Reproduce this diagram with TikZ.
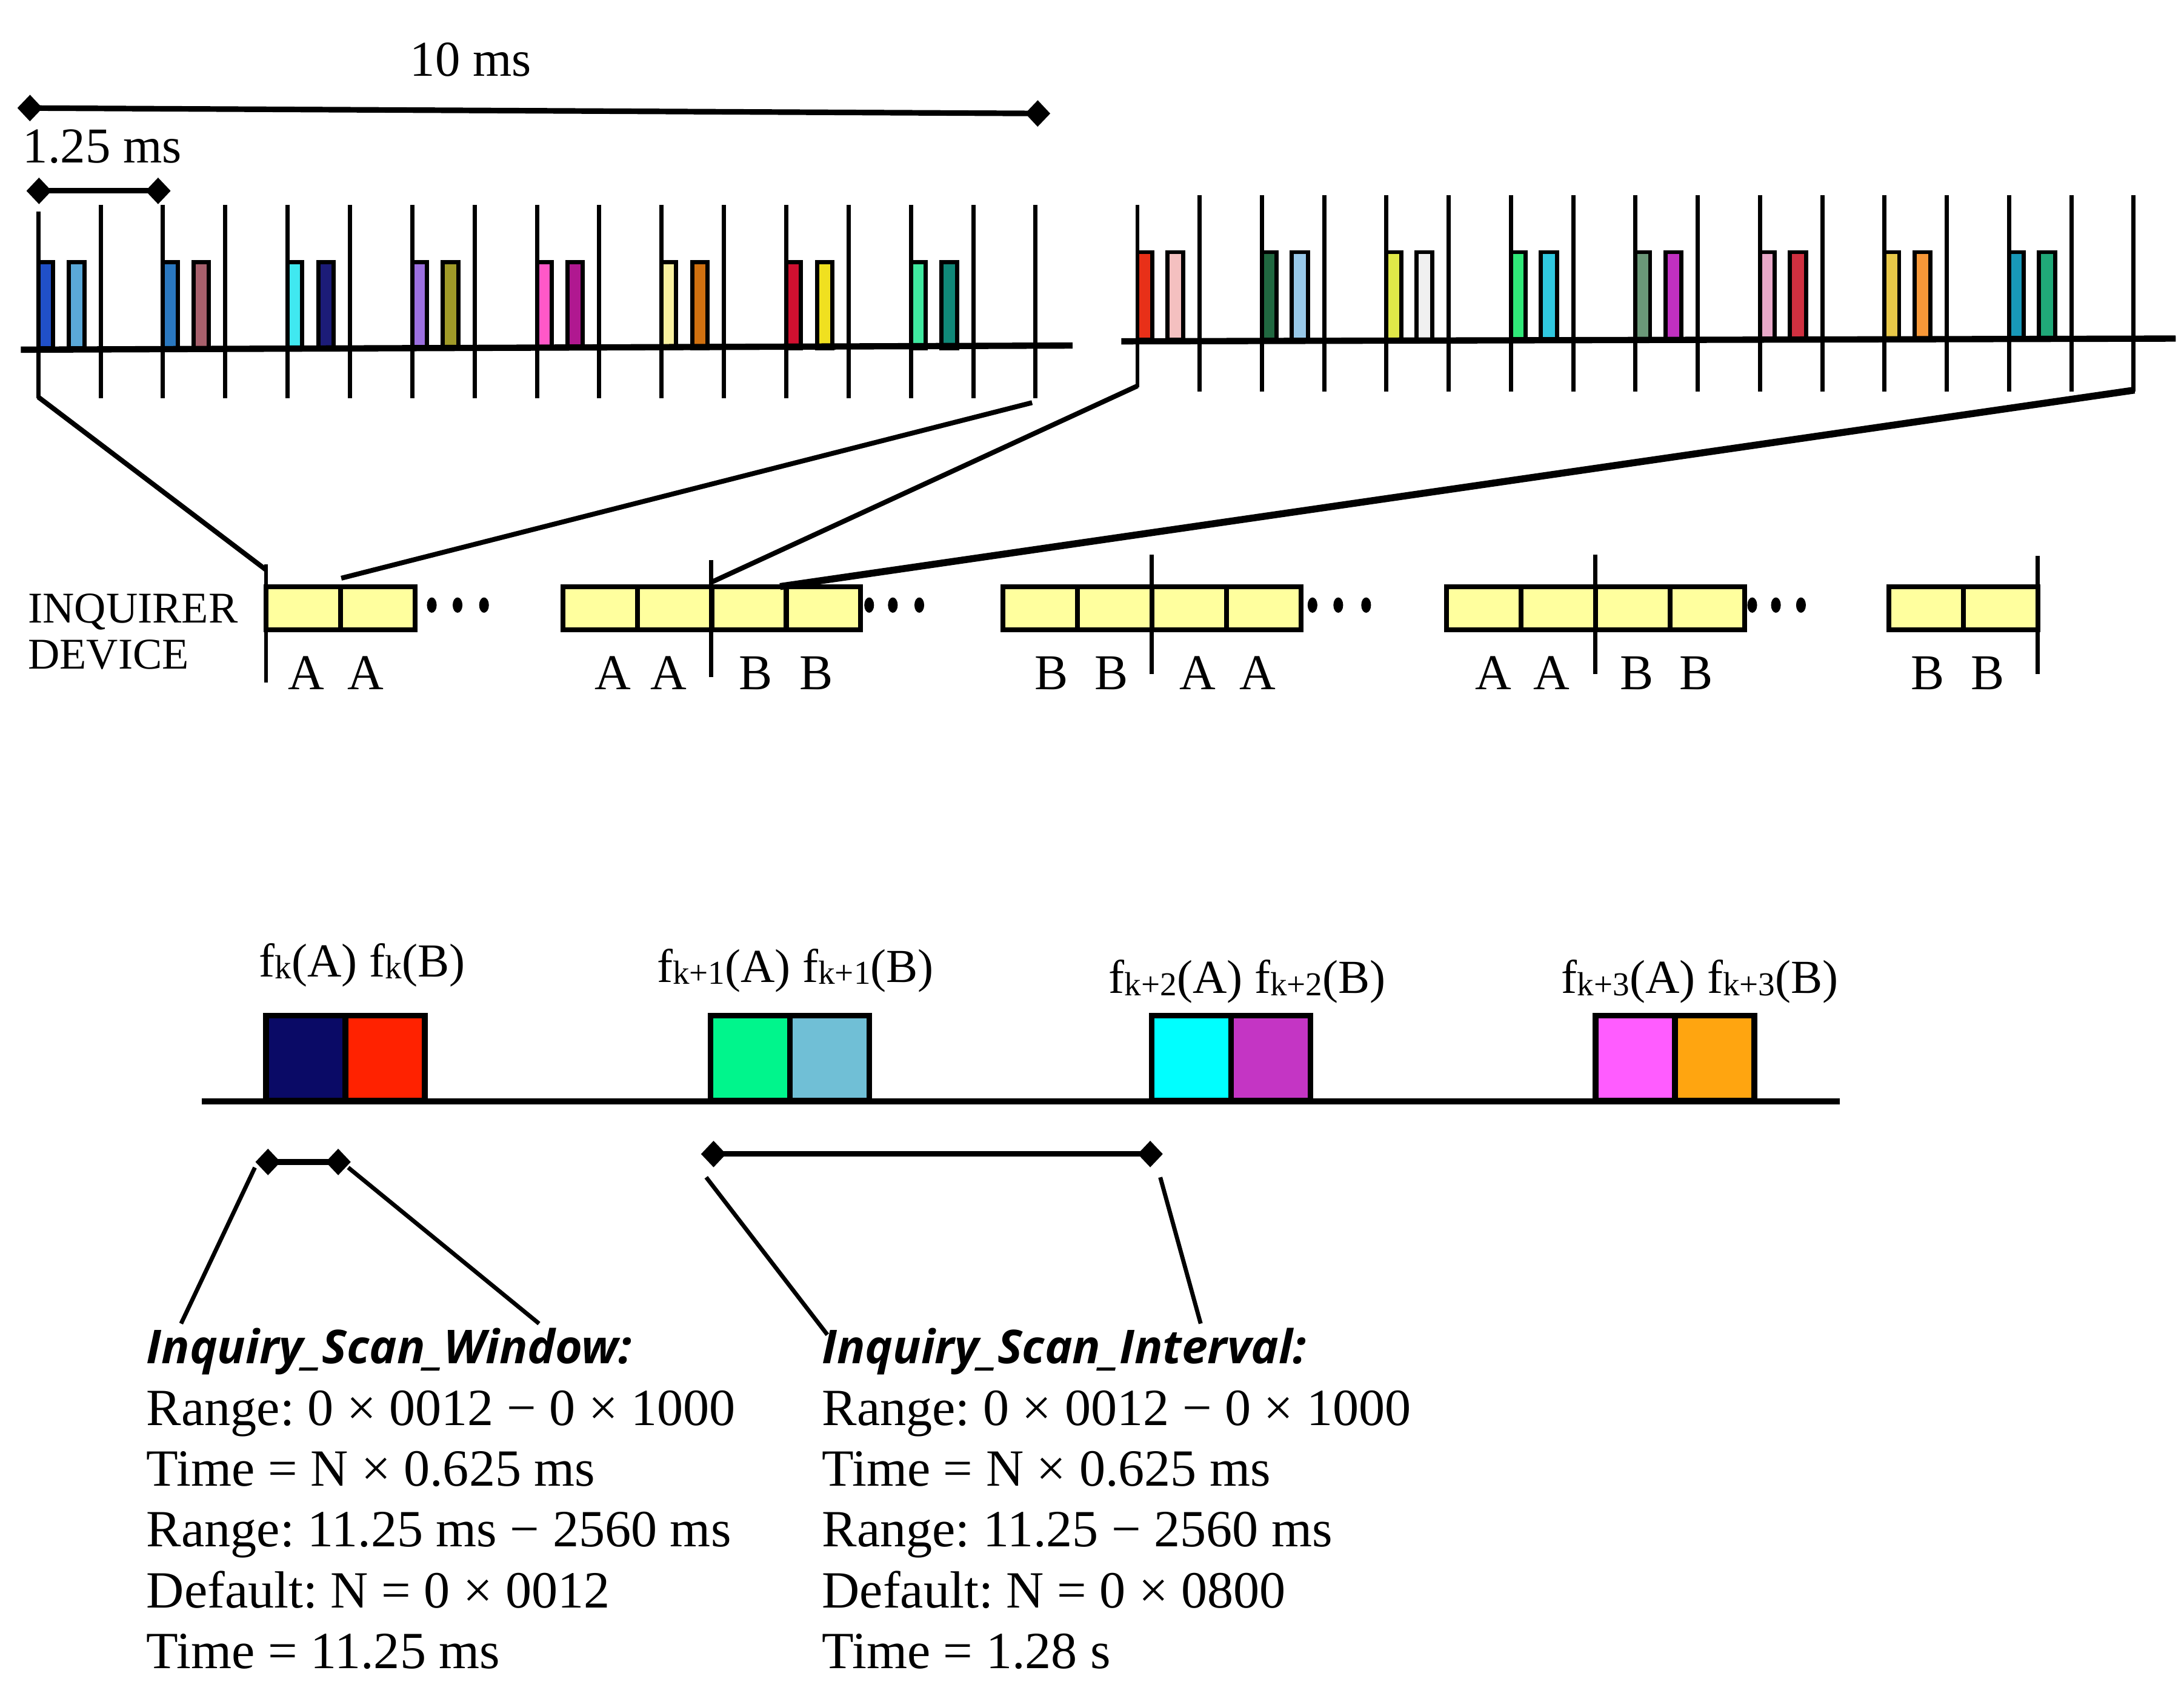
\documentclass[tikz,border=0pt]{standalone}
\usepackage{fontspec}
\setmainfont{Liberation Serif}
\newfontfamily\kopfschrift{Open Sans}
\usetikzlibrary{positioning, shapes, calc, arrows.meta}
\frenchspacing

% Farben der unteren Frequenzbloecke
\definecolor{zellgelb}{HTML}{FFFF9E}
\definecolor{kA}{HTML}{0A0A66}
\definecolor{kB}{HTML}{FF2200}
\definecolor{keinsA}{HTML}{00F58C}
\definecolor{keinsB}{HTML}{70BFD6}
\definecolor{kzweiA}{HTML}{00FFFF}
\definecolor{kzweiB}{HTML}{C435C4}
\definecolor{kdreiA}{HTML}{FF5CFF}
\definecolor{kdreiB}{HTML}{FFA510}

% Tiefgestellter Index (k, k+1, ...)
\newcommand{\unten}[1]{\raisebox{-1.5pt}{\fontsize{24}{24}\selectfont #1}}

\tikzset{
    strich/.style={line width=3pt},
    achse/.style={line width=4.5pt},
    balken/.style={draw=black, line width=3pt},
    block/.style={draw=black, line width=4pt},
    zelle/.style={draw=black, fill=zellgelb, line width=3.5pt},
    verbinder/.style={line width=3.5pt},
    massline/.style={line width=4pt,
        {Turned Square[length=18pt,width=19pt]}-{Turned Square[length=18pt,width=19pt]}},
    zeit/.style={font=\fontsize{36}{40}\selectfont, inner sep=0pt},
    buchst/.style={font=\fontsize{36}{40}\selectfont, inner sep=0pt},
    geraet/.style={font=\fontsize{31.5}{33}\selectfont, inner sep=0pt, align=left, anchor=west},
    freq/.style={font=\fontsize{34}{38}\selectfont, inner sep=0pt, anchor=base},
    kopf/.style={font=\kopfschrift\bfseries\itshape\fontsize{33.5}{36}\selectfont, inner sep=0pt, anchor=base west},
    zeile/.style={font=\fontsize{37.5}{43}\selectfont, inner sep=0pt, anchor=base west}
}

\begin{document}
\begin{tikzpicture}[x=1pt, y=-1pt]
    \useasboundingbox (0,0) rectangle (1568,1215);

    % Massstaebe oben
    \coordinate (zehnL) at (12.5,77.5);
    \coordinate (zehnR) at (754,81.5);
    \draw[massline] (zehnL) -- (zehnR);
    \node[zeit] (zehn) at (338,43) {10 ms};
    \coordinate (slotL) at (19,137);
    \coordinate (slotR) at (122.5,137);
    \draw[massline] (slotL) -- (slotR);
    \node[zeit] (slot) at (73.5,105) {1.25 ms};

    % Linke Zeitachse: 8 Slots mit je zwei Sendefrequenzen
    \foreach \j/\ca/\cb in {0/2050C8/5AA8D8, 1/2A78C0/A8606C, 2/40E8F0/1C1C78, 3/9C70E0/A09A28,
                            4/FF58C8/B01890, 5/F8F0A0/D07010, 6/D01030/F0E020, 7/40E8A0/108878} {
        \definecolor{farbeA}{HTML}{\ca}
        \definecolor{farbeB}{HTML}{\cb}
        \pgfmathsetmacro{\xs}{27.5+89.5*\j}
        \draw[balken, fill=farbeA] (\xs,188) rectangle ++(10.5,62);
        \draw[balken, fill=farbeB] ({\xs+22},188) rectangle ++(11,62);
    }
    \foreach \i in {1,...,16}
        \draw[strich] ({27.5+44.75*\i},147) -- ({27.5+44.75*\i},286);
    \draw[strich] (27.5,152) -- (27.5,286);
    \draw[achse] (15,251) -- (770,248);

    % Rechte Zeitachse
    \foreach \j/\ca/\cb in {0/E83018/F4C0C0, 1/206840/98C8E8, 2/E0E848/F0F0F0, 3/30E878/30C8E0,
                            4/6A9878/C030C0, 5/E8A8C8/D03040, 6/E8C848/F89838, 7/1898B8/20A878} {
        \definecolor{farbeA}{HTML}{\ca}
        \definecolor{farbeB}{HTML}{\cb}
        \pgfmathsetmacro{\xs}{816.6+89.4*\j}
        \draw[balken, fill=farbeA] (\xs,181) rectangle ++(10.5,63);
        \draw[balken, fill=farbeB] ({\xs+21.5},181) rectangle ++(11.5,63);
    }
    \foreach \i in {1,...,16}
        \draw[strich] ({816.6+44.7*\i},140) -- ({816.6+44.7*\i},281);
    \draw[strich] (816.6,147) -- (816.6,278);
    \draw[achse] (805,245) -- (1562,243);

    % Zellen des Inquirer-Geraets
    \foreach \x/\n in {191/2, 404/4, 720/4, 1038.5/4, 1356/2} {
        \foreach \c in {1,...,\n}
            \draw[zelle] ({\x+53.5*(\c-1)},421) rectangle ++(53.5,31);
    }
    \foreach \x in {310, 328.5, 347.5, 624, 641, 660, 942.3, 960.8, 980.8, 1258, 1275, 1293}
        \fill (\x,434.3) ellipse (3.5 and 5.5);
    \draw[strich] (191,405) -- (191,490);
    \draw[strich] (510.5,402) -- (510.5,486);
    \draw[strich] (827,398) -- (827,484);
    \draw[strich] (1145.5,398) -- (1145.5,484);
    \draw[strich] (1463,399) -- (1463,484);
    \node[geraet] (geraet) at (20,453.5) {INQUIRER\\DEVICE};

    % Buchstaben unter den Zellen
    \foreach \x/\b [count=\n] in {220/A, 262.5/A, 440/A, 480/A, 542.5/B, 586/B,
                                  755/B, 798/B, 860/A, 903/A, 1072/A, 1114/A,
                                  1175/B, 1218/B, 1384/B, 1427/B}
        \node[buchst] (buchst\n) at (\x,483) {\b};

    % Verbinder von den Zeitachsen zu den Zellen
    \coordinate (lstart) at (27.5,285);
    \coordinate (lende) at (741,289);
    \coordinate (rstart) at (816.6,277);
    \coordinate (rende) at (1532.5,280);
    \coordinate (zielA) at (191,409);
    \coordinate (zielB) at (245,415);
    \coordinate (zielC) at (510.5,418);
    \coordinate (zielD) at (560,421);
    \draw[verbinder] (lstart) -- (zielA);
    \draw[verbinder] (lende) -- (zielB);
    \draw[verbinder] (rstart) -- (zielC);
    \draw[verbinder, line width=5pt] (rende) -- (zielD);

    % Untere Zeitachse mit Scan-Fenstern
    \foreach \x/\ca/\cb in {191/kA/kB, 510/keinsA/keinsB, 827/kzweiA/kzweiB, 1145.5/kdreiA/kdreiB} {
        \draw[block, fill=\ca] (\x,729) rectangle ++(57,61);
        \draw[block, fill=\cb] ({\x+57},729) rectangle ++(57,61);
    }
    \draw[achse] (145,790.5) -- (1321,790.5);
    \node[freq] (fk)   at (260,701)    {f\unten{k}(A) f\unten{k}(B)};
    \node[freq] (fk1)  at (571,705)    {f\unten{k+1}(A) f\unten{k+1}(B)};
    \node[freq] (fk2)  at (895.5,713)  {f\unten{k+2}(A) f\unten{k+2}(B)};
    \node[freq] (fk3)  at (1220.5,713) {f\unten{k+3}(A) f\unten{k+3}(B)};

    % Masslinien Window / Interval
    \coordinate (fensterL) at (183.4,834);
    \coordinate (fensterR) at (251.8,834);
    \draw[massline] (fensterL) -- (fensterR);
    \coordinate (abstandL) at (503.3,828.3);
    \coordinate (abstandR) at (834.8,828.3);
    \draw[massline] (abstandL) -- (abstandR);

    \coordinate (fLo) at (183,838);
    \coordinate (fLu) at (130,950);
    \coordinate (fRo) at (250,838);
    \coordinate (fRu) at (387,950);
    \coordinate (aLo) at (507,845);
    \coordinate (aLu) at (594,958);
    \coordinate (aRo) at (833,845);
    \coordinate (aRu) at (862,950);
    \draw[strich] (fLo) -- (fLu);
    \draw[strich] (fRo) -- (fRu);
    \draw[strich] (aLo) -- (aLu);
    \draw[strich] (aRo) -- (aRu);

    % Parameterbeschreibungen
    \node[kopf] (fenster) at (105,978.7) {Inquiry\_Scan\_Window:};
    \node[kopf] (intervall) at (590,978.7) {Inquiry\_Scan\_Interval:};
    \foreach \inhalt [count=\n from 0] in {{Range: 0 × 0012 − 0 × 1000},{Time = N × 0.625 ms},
                                           {Range: 11.25 ms − 2560 ms},{Default: N = 0 × 0012},
                                           {Time = 11.25 ms}}
        \node[zeile] (links\n) at (105,{1023+43.6*\n}) {\inhalt};
    \foreach \inhalt [count=\n from 0] in {{Range: 0 × 0012 − 0 × 1000},{Time = N × 0.625 ms},
                                           {Range: 11.25 − 2560 ms},{Default: N = 0 × 0800},
                                           {Time = 1.28 s}}
        \node[zeile] (rechts\n) at (590,{1023+43.6*\n}) {\inhalt};

\end{tikzpicture}
\end{document}
